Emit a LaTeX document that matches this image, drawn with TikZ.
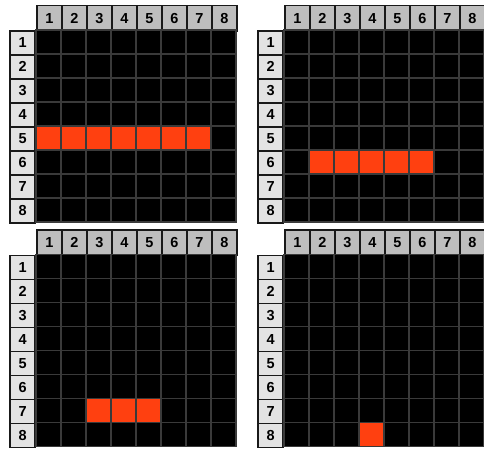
\documentclass[tikz,border=0pt]{standalone}
\usepackage{fontspec}
\setmainfont{Liberation Sans}
\usetikzlibrary{positioning}
\definecolor{cellred}{RGB}{255, 64, 16}
\definecolor{headgray}{RGB}{190, 190, 190}
\definecolor{rowgray}{RGB}{227, 227, 227}
\definecolor{gridline}{RGB}{58, 58, 58}
\definecolor{headline}{RGB}{25, 25, 25}

\tikzset{
  cell/.style={draw=gridline, line width=1.8pt, fill=black},
  litcell/.style={draw=gridline, line width=1.8pt, fill=cellred},
  colhead/.style={draw=headline, line width=1.8pt, fill=headgray, minimum width=25pt, minimum height=25.5pt, inner sep=0pt, font=\fontsize{14.5}{16}\selectfont\bfseries},
  rowhead/.style={draw=headline, line width=1.8pt, fill=rowgray, minimum width=25pt, minimum height=24pt, inner sep=0pt, font=\fontsize{14.5}{16}\selectfont\bfseries}
}

% one board: origin x, origin y, name, lit row, first and last lit column
\newcommand{\board}[6]{%
  \foreach \c in {1,...,8} {
    \node[colhead, anchor=north west] (#3c\c) at (#1+25*\c-25, #2) {\c};
  }
  \foreach \r in {1,...,8} {
    \node[rowhead, anchor=north east] (#3r\r) at (#1, #2+1.5+24*\r) {\r};
    \foreach \c in {1,...,8} {
      \draw[cell] (#1+25*\c-25, #2+1.5+24*\r) rectangle ++(25,24);
    }
  }
  \foreach \c in {#5,...,#6} {
    \draw[litcell] (#1+25*\c-25, #2+1.5+24*#4) rectangle ++(25,24);
  }
}

\begin{document}
\begin{tikzpicture}[x=1pt, y=-1pt]
\useasboundingbox (0,0) rectangle (484,448);
\board{36}{4.5}{tl}{5}{1}{7}
\board{284}{4.5}{tr}{6}{2}{6}
\board{36}{229}{bl}{7}{3}{5}
\board{284}{229}{br}{8}{4}{4}
\end{tikzpicture}
\end{document}
